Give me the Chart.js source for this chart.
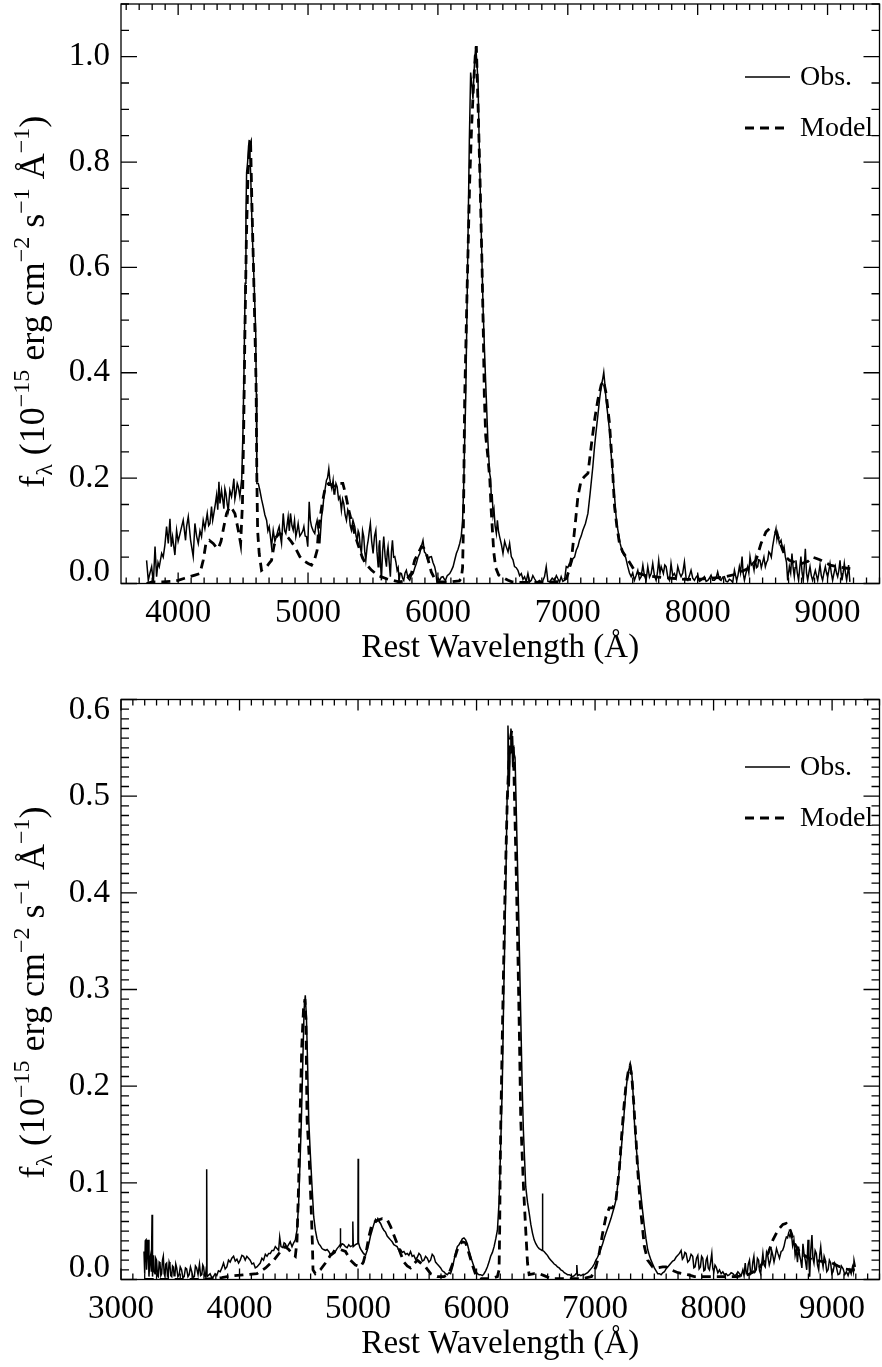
<!DOCTYPE html>
<html>
<head>
<meta charset="utf-8">
<title>Observed vs model spectrum</title>
<script src="https://cdn.jsdelivr.net/npm/chart.js@4.4.1/dist/chart.umd.min.js"></script>
<style>
  html, body { margin: 0; padding: 0; background: #fff; }
  #page { position: relative; width: 882px; height: 1367px; overflow: hidden; }
  canvas { position: absolute; left: 0; }
</style>
</head>
<body>
<div id="page">
  <canvas id="topChart" width="882" height="683" style="top:0"></canvas>
  <canvas id="bottomChart" width="882" height="684" style="top:683px"></canvas>
</div>
<script>
// Wavelength (A) / flux (1e-15 erg cm^-2 s^-1 A^-1) pairs

// upper panel, observed spectrum
const topObs = [
  [3757,0.044],[3770,0.006],[3783,0.02],[3796,0.032],[3809,0.0],[3822,0.07],[3834,0.013],[3845,0.04],[3855,0.032],[3873,0.057],
  [3885,0.05],[3898,0.073],[3911,0.108],[3924,0.076],[3937,0.123],[3947,0.07],[3957,0.089],[3975,0.054],[3988,0.101],[4000,0.08],
  [4009,0.089],[4027,0.108],[4039,0.12],[4057,0.082],[4065,0.108],[4078,0.127],[4096,0.082],[4116,0.051],[4129,0.114],[4142,0.09],
  [4155,0.076],[4168,0.1],[4180,0.089],[4193,0.12],[4206,0.104],[4224,0.133],[4235,0.11],[4245,0.114],[4257,0.146],[4266,0.12],
  [4275,0.133],[4286,0.15],[4296,0.168],[4305,0.14],[4314,0.193],[4322,0.152],[4334,0.177],[4343,0.16],[4352,0.142],[4360,0.18],
  [4368,0.171],[4378,0.15],[4386,0.139],[4398,0.177],[4411,0.165],[4420,0.18],[4429,0.199],[4437,0.16],[4445,0.171],[4455,0.19],
  [4463,0.184],[4475,0.165],[4490,0.2],[4500,0.3],[4508,0.42],[4516,0.57],[4522,0.7],[4527,0.78],[4535,0.8],[4542,0.83],
  [4547,0.842],[4558,0.78],[4570,0.67],[4585,0.57],[4597,0.48],[4602,0.36],[4606,0.19],[4617,0.19],[4629,0.177],[4642,0.16],
  [4655,0.146],[4668,0.13],[4681,0.12],[4691,0.1],[4701,0.108],[4710,0.09],[4719,0.07],[4732,0.101],[4745,0.08],[4757,0.089],
  [4768,0.1],[4778,0.108],[4787,0.09],[4796,0.076],[4809,0.133],[4820,0.1],[4829,0.095],[4838,0.11],[4847,0.127],[4856,0.1],
  [4865,0.133],[4876,0.11],[4886,0.101],[4896,0.12],[4906,0.089],[4915,0.1],[4924,0.114],[4937,0.09],[4950,0.095],[4960,0.1],
  [4968,0.108],[4978,0.09],[4988,0.089],[4998,0.07],[5009,0.155],[5018,0.12],[5027,0.108],[5040,0.1],[5052,0.095],[5060,0.11],
  [5070,0.12],[5080,0.1],[5091,0.076],[5104,0.127],[5113,0.14],[5122,0.165],[5132,0.18],[5142,0.196],[5150,0.2],[5160,0.218],
  [5167,0.2],[5173,0.19],[5183,0.18],[5193,0.196],[5200,0.17],[5206,0.171],[5215,0.19],[5224,0.184],[5235,0.16],[5245,0.165],
  [5257,0.139],[5266,0.16],[5275,0.152],[5286,0.13],[5296,0.12],[5306,0.14],[5316,0.133],[5325,0.11],[5334,0.101],[5346,0.12],
  [5360,0.108],[5370,0.09],[5378,0.082],[5386,0.1],[5393,0.095],[5402,0.07],[5411,0.057],[5420,0.1],[5429,0.089],[5437,0.06],
  [5445,0.044],[5455,0.07],[5463,0.082],[5472,0.1],[5480,0.114],[5490,0.08],[5501,0.057],[5512,0.09],[5522,0.101],[5531,0.06],
  [5540,0.032],[5546,0.07],[5552,0.082],[5558,0.04],[5565,0.006],[5574,0.06],[5583,0.089],[5594,0.05],[5604,0.032],[5610,0.06],
  [5616,0.07],[5625,0.04],[5634,0.013],[5642,0.06],[5650,0.082],[5659,0.05],[5668,0.051],[5677,0.04],[5686,0.025],[5694,0.03],
  [5701,0.006],[5710,0.02],[5719,0.019],[5728,0.01],[5737,0.006],[5747,0.02],[5757,0.025],[5770,0.01],[5783,0.006],[5796,0.015],
  [5809,0.019],[5822,0.03],[5834,0.038],[5847,0.05],[5860,0.057],[5872,0.07],[5885,0.082],[5896,0.06],[5906,0.057],[5915,0.05],
  [5924,0.044],[5935,0.05],[5950,0.051],[5962,0.04],[5975,0.032],[5985,0.02],[5993,0.0],[6003,0.01],[6014,0.006],[6026,0.012],
  [6039,0.013],[6050,0.008],[6058,0.006],[6072,0.015],[6091,0.019],[6104,0.025],[6117,0.032],[6130,0.045],[6142,0.057],[6155,0.065],
  [6168,0.076],[6180,0.09],[6190,0.12],[6198,0.18],[6206,0.27],[6214,0.349],[6224,0.52],[6233,0.68],[6242,0.84],[6252,0.97],
  [6260,0.95],[6270,0.92],[6280,0.98],[6291,1.02],[6300,0.99],[6309,0.95],[6320,0.81],[6334,0.665],[6348,0.52],[6362,0.42],
  [6373,0.349],[6385,0.27],[6398,0.21],[6405,0.2],[6412,0.16],[6418,0.17],[6425,0.13],[6432,0.14],[6440,0.11],[6450,0.095],
  [6458,0.12],[6466,0.1],[6475,0.089],[6488,0.075],[6501,0.057],[6514,0.08],[6526,0.07],[6540,0.06],[6552,0.076],[6565,0.051],
  [6578,0.045],[6590,0.032],[6603,0.03],[6616,0.025],[6629,0.015],[6642,0.019],[6655,0.008],[6667,0.013],[6680,0.004],[6693,0.019],
  [6706,0.003],[6719,0.006],[6731,0.015],[6744,0.009],[6760,0.002],[6783,0.006],[6802,0.002],[6821,0.013],[6834,0.032],[6847,0.004],
  [6860,0.003],[6880,0.01],[6898,0.006],[6912,0.015],[6924,0.009],[6937,0.003],[6949,0.013],[6962,0.004],[6975,0.006],[6988,0.032],
  [7000,0.03],[7013,0.038],[7026,0.036],[7039,0.047],[7052,0.05],[7065,0.063],[7078,0.07],[7090,0.082],[7103,0.09],[7116,0.101],
  [7136,0.114],[7155,0.133],[7172,0.171],[7193,0.222],[7206,0.26],[7219,0.291],[7232,0.32],[7244,0.348],[7258,0.375],[7270,0.39],
  [7277,0.401],[7285,0.38],[7295,0.348],[7308,0.32],[7321,0.291],[7332,0.25],[7342,0.222],[7352,0.19],[7360,0.165],[7372,0.127],
  [7380,0.11],[7390,0.095],[7403,0.076],[7420,0.06],[7432,0.054],[7445,0.05],[7462,0.032],[7475,0.02],[7488,0.013],[7500,0.02],
  [7513,0.006],[7526,0.015],[7539,0.025],[7552,0.008],[7565,0.013],[7578,0.035],[7590,0.015],[7603,0.006],[7616,0.032],[7629,0.012],
  [7642,0.019],[7654,0.038],[7667,0.015],[7680,0.006],[7690,0.02],[7700,0.044],[7710,0.02],[7719,0.032],[7736,0.019],[7747,0.035],
  [7757,0.032],[7770,0.012],[7783,0.006],[7795,0.038],[7808,0.015],[7821,0.019],[7835,0.01],[7847,0.032],[7860,0.02],[7872,0.013],
  [7885,0.02],[7898,0.041],[7911,0.01],[7924,0.006],[7937,0.015],[7949,0.025],[7962,0.01],[7975,0.006],[7988,0.012],[8001,0.016],
  [8014,0.004],[8026,0.006],[8039,0.01],[8052,0.013],[8065,0.004],[8078,0.006],[8090,0.01],[8103,0.016],[8116,0.006],[8129,0.006],
  [8142,0.01],[8154,0.022],[8167,0.008],[8180,0.006],[8193,0.012],[8206,0.013],[8219,0.004],[8231,0.003],[8244,0.008],[8257,0.006],
  [8270,0.002],[8283,0.025],[8300,0.006],[8310,0.015],[8321,0.032],[8330,0.02],[8342,0.051],[8350,0.02],[8360,0.006],[8372,0.02],
  [8385,0.032],[8394,0.02],[8403,0.051],[8413,0.035],[8424,0.038],[8434,0.025],[8444,0.047],[8453,0.03],[8462,0.032],[8470,0.045],
  [8480,0.044],[8490,0.03],[8501,0.041],[8510,0.05],[8521,0.032],[8530,0.04],[8539,0.044],[8548,0.06],[8557,0.057],[8567,0.05],
  [8577,0.07],[8590,0.089],[8603,0.104],[8610,0.085],[8616,0.095],[8629,0.076],[8642,0.082],[8655,0.063],[8665,0.07],[8675,0.051],
  [8684,0.04],[8693,0.006],[8700,0.02],[8706,0.032],[8716,0.02],[8726,0.057],[8735,0.03],[8744,0.013],[8750,0.03],[8757,0.044],
  [8767,0.02],[8777,0.006],[8786,0.03],[8795,0.051],[8804,0.02],[8813,0.006],[8820,0.03],[8829,0.066],[8838,0.02],[8847,0.006],
  [8856,0.02],[8865,0.032],[8875,0.015],[8885,0.006],[8895,0.015],[8906,0.025],[8915,0.015],[8924,0.006],[8933,0.02],[8942,0.035],
  [8952,0.015],[8962,0.006],[8972,0.02],[8983,0.032],[8992,0.02],[9001,0.013],[9010,0.025],[9019,0.038],[9029,0.02],[9039,0.006],
  [9050,0.02],[9060,0.032],[9069,0.02],[9078,0.013],[9087,0.025],[9096,0.044],[9104,0.02],[9111,0.006],[9120,0.02],[9129,0.038],
  [9138,0.02],[9147,0.006],[9155,0.02],[9162,0.035],[9172,0.003]
];

// upper panel, model spectrum
const topModel = [
  [3757,0.0],[3800,0.003],[3880,0.003],[3950,0.004],[4000,0.006],[4050,0.01],[4090,0.013],[4130,0.016],[4168,0.019],[4193,0.044],
  [4214,0.076],[4240,0.082],[4270,0.076],[4290,0.07],[4309,0.066],[4330,0.08],[4352,0.108],[4373,0.133],[4398,0.146],[4420,0.14],
  [4437,0.133],[4463,0.101],[4481,0.076],[4495,0.15],[4505,0.3],[4514,0.476],[4525,0.65],[4538,0.78],[4550,0.83],[4558,0.835],
  [4568,0.72],[4580,0.6],[4592,0.47],[4600,0.38],[4606,0.2],[4612,0.1],[4624,0.057],[4642,0.025],[4660,0.028],[4681,0.032],
  [4700,0.038],[4719,0.044],[4737,0.07],[4757,0.089],[4780,0.095],[4810,0.092],[4840,0.089],[4870,0.08],[4898,0.07],[4937,0.051],
  [4963,0.044],[5001,0.038],[5027,0.035],[5050,0.045],[5070,0.063],[5083,0.108],[5109,0.152],[5134,0.184],[5160,0.19],[5200,0.185],
  [5237,0.19],[5268,0.19],[5288,0.171],[5314,0.139],[5339,0.114],[5365,0.089],[5390,0.07],[5416,0.051],[5442,0.038],[5490,0.025],
  [5540,0.015],[5604,0.009],[5650,0.006],[5700,0.003],[5750,0.005],[5796,0.019],[5821,0.044],[5847,0.057],[5873,0.07],[5890,0.068],
  [5911,0.057],[5930,0.04],[5949,0.022],[5975,0.009],[6000,0.003],[6100,0.003],[6165,0.005],[6180,0.01],[6190,0.03],[6196,0.1],
  [6200,0.2],[6206,0.349],[6225,0.56],[6245,0.766],[6260,0.87],[6275,0.95],[6287,1.0],[6296,1.02],[6310,0.9],[6325,0.76],
  [6340,0.6],[6350,0.47],[6357,0.36],[6368,0.28],[6385,0.24],[6400,0.196],[6410,0.14],[6420,0.1],[6430,0.06],[6445,0.03],
  [6468,0.016],[6490,0.012],[6510,0.01],[6540,0.006],[6570,0.003],[6650,0.002],[6800,0.002],[6950,0.004],[6990,0.01],[7010,0.025],
  [7030,0.05],[7044,0.082],[7060,0.12],[7078,0.165],[7103,0.196],[7129,0.203],[7155,0.209],[7180,0.26],[7206,0.31],[7231,0.348],
  [7257,0.377],[7275,0.385],[7295,0.361],[7321,0.304],[7342,0.228],[7360,0.146],[7378,0.108],[7398,0.076],[7423,0.06],[7450,0.05],
  [7488,0.035],[7513,0.025],[7540,0.02],[7600,0.015],[7700,0.012],[7800,0.01],[7900,0.008],[8000,0.008],[8100,0.01],[8200,0.012],
  [8300,0.018],[8400,0.03],[8449,0.044],[8488,0.076],[8526,0.098],[8552,0.104],[8578,0.1],[8603,0.098],[8629,0.082],[8655,0.063],
  [8680,0.05],[8706,0.044],[8750,0.04],[8800,0.038],[8850,0.042],[8885,0.05],[8910,0.048],[8940,0.045],[8980,0.04],[9020,0.035],
  [9070,0.032],[9120,0.03],[9175,0.028]
];

// lower panel, observed spectrum
const bottomObs = [
  [3194,0.029],[3200,0.006],[3205,0.04],[3211,0.041],[3216,0.01],[3222,0.03],[3228,0.041],[3236,0.003],[3243,0.02],[3250,0.025],
  [3256,0.008],[3262,0.067],[3266,0.003],[3275,0.025],[3281,0.008],[3287,0.006],[3293,0.022],[3300,0.02],[3308,0.004],[3315,0.003],
  [3322,0.018],[3329,0.017],[3336,0.004],[3343,0.006],[3350,0.02],[3357,0.024],[3364,0.006],[3371,0.003],[3378,0.016],[3385,0.017],
  [3392,0.004],[3399,0.006],[3406,0.018],[3413,0.015],[3420,0.004],[3428,0.003],[3435,0.014],[3442,0.013],[3448,0.004],[3455,0.005],
  [3462,0.016],[3470,0.012],[3480,0.003],[3491,0.005],[3500,0.013],[3511,0.01],[3522,0.002],[3533,0.003],[3544,0.012],[3554,0.011],
  [3565,0.003],[3575,0.005],[3586,0.013],[3597,0.008],[3608,0.002],[3619,0.003],[3628,0.014],[3638,0.012],[3650,0.005],[3662,0.016],
  [3672,0.004],[3682,0.005],[3690,0.015],[3697,0.013],[3705,0.004],[3712,0.003],[3718,0.01],[3722,0.008],[3724,0.114],[3726,0.003],
  [3735,0.004],[3752,0.006],[3766,0.002],[3780,0.003],[3794,0.006],[3808,0.004],[3822,0.009],[3837,0.008],[3851,0.012],[3865,0.017],
  [3879,0.011],[3893,0.013],[3907,0.02],[3921,0.018],[3935,0.022],[3950,0.024],[3964,0.019],[3978,0.021],[3992,0.017],[4006,0.02],
  [4020,0.025],[4034,0.024],[4048,0.02],[4062,0.024],[4076,0.022],[4090,0.02],[4105,0.016],[4119,0.017],[4133,0.012],[4147,0.013],
  [4161,0.015],[4175,0.017],[4189,0.022],[4203,0.02],[4218,0.026],[4232,0.024],[4246,0.027],[4260,0.027],[4274,0.03],[4288,0.03],
  [4302,0.034],[4316,0.032],[4330,0.03],[4339,0.044],[4350,0.034],[4366,0.033],[4376,0.038],[4386,0.037],[4400,0.033],[4414,0.036],
  [4428,0.039],[4443,0.034],[4457,0.038],[4471,0.041],[4485,0.051],[4499,0.079],[4513,0.13],[4522,0.165],[4535,0.23],[4545,0.28],
  [4555,0.294],[4565,0.27],[4575,0.22],[4584,0.165],[4597,0.131],[4612,0.096],[4626,0.065],[4640,0.051],[4654,0.042],[4668,0.037],
  [4682,0.035],[4696,0.032],[4710,0.031],[4725,0.03],[4739,0.031],[4753,0.029],[4767,0.026],[4781,0.027],[4795,0.03],[4809,0.029],
  [4823,0.032],[4837,0.034],[4849,0.036],[4851,0.053],[4853,0.034],[4866,0.037],[4880,0.036],[4894,0.034],[4908,0.033],[4922,0.036],
  [4936,0.034],[4952,0.035],[4956,0.06],[4960,0.034],[4978,0.036],[4992,0.037],[4999,0.038],[5001,0.125],[5004,0.038],[5016,0.033],
  [5030,0.03],[5046,0.027],[5063,0.025],[5077,0.03],[5091,0.037],[5105,0.045],[5119,0.051],[5133,0.057],[5147,0.062],[5157,0.06],
  [5167,0.063],[5178,0.06],[5190,0.058],[5204,0.054],[5218,0.051],[5232,0.049],[5246,0.045],[5260,0.043],[5274,0.041],[5288,0.039],
  [5302,0.036],[5316,0.035],[5330,0.034],[5345,0.03],[5359,0.031],[5373,0.028],[5387,0.029],[5401,0.026],[5415,0.027],[5429,0.025],
  [5443,0.029],[5457,0.024],[5471,0.025],[5485,0.021],[5500,0.023],[5514,0.027],[5528,0.025],[5542,0.019],[5556,0.02],[5570,0.024],
  [5584,0.022],[5598,0.018],[5612,0.02],[5626,0.026],[5640,0.024],[5654,0.018],[5668,0.016],[5683,0.014],[5697,0.012],[5711,0.009],
  [5725,0.008],[5739,0.006],[5753,0.005],[5767,0.007],[5781,0.006],[5796,0.012],[5810,0.02],[5824,0.028],[5838,0.034],[5852,0.036],
  [5866,0.039],[5880,0.042],[5894,0.043],[5908,0.041],[5922,0.037],[5936,0.03],[5950,0.024],[5965,0.018],[5979,0.013],[5993,0.009],
  [6007,0.006],[6021,0.005],[6035,0.005],[6049,0.004],[6063,0.006],[6077,0.009],[6091,0.013],[6105,0.018],[6119,0.024],[6134,0.028],
  [6148,0.034],[6162,0.042],[6176,0.051],[6190,0.08],[6204,0.14],[6217,0.2],[6230,0.3],[6246,0.4],[6258,0.5],[6265,0.573],
  [6270,0.55],[6276,0.51],[6283,0.545],[6290,0.57],[6298,0.56],[6305,0.53],[6315,0.545],[6325,0.54],[6340,0.46],[6355,0.38],
  [6370,0.29],[6385,0.2],[6395,0.155],[6415,0.096],[6430,0.08],[6444,0.069],[6458,0.057],[6472,0.048],[6486,0.041],[6500,0.037],
  [6514,0.034],[6528,0.032],[6542,0.031],[6553,0.03],[6556,0.089],[6559,0.03],[6570,0.029],[6584,0.027],[6598,0.025],[6613,0.022],
  [6627,0.02],[6641,0.018],[6655,0.016],[6669,0.015],[6683,0.013],[6697,0.012],[6711,0.01],[6726,0.009],[6740,0.007],[6754,0.006],
  [6768,0.005],[6782,0.005],[6796,0.004],[6810,0.003],[6825,0.004],[6840,0.006],[6846,0.015],[6852,0.004],[6866,0.005],[6880,0.004],
  [6895,0.005],[6909,0.005],[6923,0.006],[6937,0.007],[6951,0.009],[6965,0.011],[6979,0.013],[6993,0.016],[7007,0.02],[7021,0.023],
  [7035,0.027],[7050,0.032],[7064,0.037],[7078,0.043],[7092,0.048],[7106,0.053],[7120,0.058],[7134,0.063],[7148,0.069],[7162,0.075],
  [7176,0.082],[7186,0.092],[7196,0.103],[7208,0.117],[7218,0.13],[7230,0.148],[7241,0.165],[7250,0.18],[7260,0.195],[7270,0.206],
  [7280,0.215],[7290,0.219],[7300,0.221],[7306,0.217],[7312,0.21],[7322,0.19],[7331,0.165],[7345,0.14],[7360,0.12],[7374,0.103],
  [7388,0.086],[7402,0.07],[7416,0.055],[7430,0.042],[7444,0.031],[7458,0.025],[7472,0.02],[7486,0.016],[7500,0.012],[7515,0.009],
  [7529,0.006],[7543,0.006],[7557,0.005],[7571,0.007],[7585,0.008],[7599,0.011],[7613,0.013],[7627,0.015],[7641,0.017],[7655,0.019],
  [7669,0.02],[7683,0.023],[7698,0.025],[7712,0.027],[7726,0.03],[7737,0.021],[7748,0.023],[7758,0.028],[7768,0.027],[7782,0.018],
  [7796,0.02],[7810,0.026],[7824,0.024],[7834,0.012],[7844,0.013],[7856,0.022],[7867,0.025],[7878,0.011],[7889,0.013],[7899,0.024],
  [7909,0.022],[7918,0.009],[7928,0.01],[7937,0.02],[7946,0.023],[7955,0.012],[7965,0.01],[7975,0.018],[7985,0.027],[7993,0.012],
  [8002,0.008],[8012,0.015],[8022,0.013],[8036,0.007],[8050,0.01],[8064,0.006],[8078,0.008],[8092,0.005],[8106,0.006],[8120,0.004],
  [8134,0.005],[8148,0.007],[8163,0.006],[8177,0.004],[8191,0.005],[8205,0.008],[8219,0.006],[8233,0.004],[8247,0.01],[8257,0.004],
  [8267,0.017],[8276,0.006],[8284,0.006],[8293,0.016],[8303,0.02],[8313,0.006],[8323,0.008],[8331,0.018],[8340,0.024],[8350,0.008],
  [8360,0.01],[8370,0.022],[8380,0.02],[8388,0.009],[8397,0.006],[8406,0.016],[8416,0.027],[8426,0.015],[8436,0.013],[8447,0.028],
  [8458,0.024],[8470,0.015],[8481,0.02],[8490,0.03],[8500,0.025],[8510,0.018],[8520,0.024],[8531,0.032],[8543,0.027],[8556,0.022],
  [8570,0.029],[8582,0.03],[8594,0.034],[8604,0.04],[8614,0.044],[8624,0.043],[8633,0.048],[8645,0.044],[8656,0.048],[8667,0.035],
  [8678,0.041],[8688,0.025],[8698,0.031],[8708,0.018],[8717,0.034],[8726,0.025],[8735,0.02],[8745,0.012],[8754,0.037],[8764,0.026],
  [8774,0.02],[8786,0.01],[8797,0.041],[8804,0.02],[8811,0.003],[8820,0.03],[8830,0.046],[8838,0.022],[8847,0.017],[8857,0.03],
  [8867,0.027],[8877,0.015],[8887,0.01],[8895,0.025],[8904,0.034],[8914,0.02],[8924,0.013],[8933,0.024],[8943,0.02],[8955,0.008],
  [8966,0.01],[8977,0.02],[8988,0.017],[8998,0.006],[9008,0.008],[9022,0.017],[9036,0.013],[9050,0.005],[9064,0.006],[9078,0.014],
  [9093,0.011],[9107,0.005],[9121,0.008],[9135,0.004],[9150,0.01],[9161,0.006],[9172,0.013],[9180,0.008],[9185,0.02],[9196,0.013]
];

// lower panel, model spectrum
const bottomModel = [
  [3200,0.0],[3400,0.0],[3700,0.0],[3850,0.002],[3950,0.004],[4050,0.005],[4147,0.006],[4220,0.012],[4290,0.02],[4340,0.028],
  [4386,0.034],[4415,0.031],[4443,0.027],[4471,0.024],[4485,0.04],[4499,0.1],[4510,0.165],[4525,0.24],[4540,0.28],[4552,0.29],
  [4560,0.27],[4570,0.165],[4586,0.131],[4603,0.079],[4615,0.037],[4620,0.01],[4640,0.006],[4682,0.01],[4725,0.017],[4767,0.025],
  [4809,0.029],[4851,0.031],[4894,0.029],[4936,0.02],[4978,0.015],[5020,0.013],[5045,0.018],[5071,0.03],[5091,0.044],[5119,0.058],
  [5160,0.061],[5204,0.063],[5246,0.062],[5274,0.055],[5302,0.046],[5330,0.037],[5359,0.027],[5387,0.018],[5415,0.014],[5443,0.012],
  [5470,0.016],[5500,0.02],[5530,0.017],[5570,0.013],[5612,0.006],[5668,0.003],[5725,0.003],[5767,0.006],[5810,0.02],[5838,0.031],
  [5865,0.037],[5880,0.039],[5908,0.038],[5936,0.027],[5965,0.015],[5993,0.005],[6035,0.001],[6100,0.001],[6150,0.002],[6176,0.003],
  [6190,0.01],[6195,0.05],[6200,0.12],[6205,0.165],[6220,0.27],[6240,0.4],[6260,0.5],[6280,0.555],[6297,0.568],[6303,0.545],
  [6310,0.555],[6320,0.5],[6335,0.42],[6350,0.33],[6362,0.25],[6373,0.165],[6396,0.096],[6415,0.051],[6430,0.017],[6444,0.005],
  [6486,0.006],[6530,0.006],[6570,0.004],[6627,0.001],[6900,0.001],[6970,0.003],[7007,0.013],[7035,0.027],[7064,0.048],[7092,0.065],
  [7120,0.074],[7148,0.074],[7176,0.082],[7204,0.113],[7224,0.148],[7241,0.175],[7260,0.2],[7280,0.215],[7295,0.221],[7310,0.21],
  [7325,0.185],[7335,0.165],[7348,0.14],[7360,0.113],[7388,0.068],[7416,0.034],[7444,0.02],[7486,0.013],[7530,0.012],[7571,0.013],
  [7599,0.013],[7640,0.01],[7700,0.007],[7782,0.005],[7838,0.003],[8000,0.003],[8200,0.003],[8289,0.005],[8374,0.01],[8430,0.02],
  [8460,0.027],[8501,0.041],[8543,0.051],[8585,0.057],[8613,0.058],[8633,0.055],[8656,0.048],[8684,0.037],[8712,0.031],[8740,0.027],
  [8790,0.023],[8839,0.02],[8900,0.019],[8952,0.018],[9000,0.017],[9050,0.014],[9107,0.011],[9163,0.01],[9200,0.01]
];

// axis ranges and labelled ticks
const topXRange = [3560, 9400];
const topYRange = [0, 1.1];
const bottomXRange = [3000, 9400];
const bottomYRange = [0, 0.6];
const topXTicks = [4000, 5000, 6000, 7000, 8000, 9000];
const bottomXTicks = [3000, 4000, 5000, 6000, 7000, 8000, 9000];
const topYTicks = [0, 0.2, 0.4, 0.6, 0.8, 1.0];
const bottomYTicks = [0, 0.1, 0.2, 0.3, 0.4, 0.5, 0.6];

const xTitle = 'Rest Wavelength (Å)';
// [text, 0 = normal, 1 = superscript, -1 = subscript]
const yTitleParts = [
  ['f', 0], ['λ', -1], [' (10', 0], ['−15', 1], [' erg cm', 0], ['−2', 1],
  [' s', 0], ['−1', 1], [' Å', 0], ['−1', 1], [')', 0]
];

const FONT = '"Liberation Serif", "Times New Roman", Times, serif';
Chart.defaults.font.family = FONT;
Chart.defaults.color = '#000';

const toXY = pairs => pairs.map(([x, y]) => ({ x, y }));

// IDL style frame: box on all four sides, inward major and minor ticks
const idlFrame = {
  id: 'idlFrame',
  afterDatasetsDraw(chart, args, o) {
    const { ctx, chartArea: a, scales: { x, y } } = chart;
    ctx.save();
    ctx.strokeStyle = '#000';
    ctx.lineWidth = 1.3;
    ctx.strokeRect(a.left, a.top, a.right - a.left, a.bottom - a.top);
    ctx.beginPath();
    const n0 = Math.ceil(x.min / o.xMinor), n1 = Math.floor(x.max / o.xMinor);
    for (let n = n0; n <= n1; n++) {
      const v = n * o.xMinor;
      const px = x.getPixelForValue(v);
      const len = Math.abs(v % o.xMajor) < 1e-6 ? 11 : 6;
      ctx.moveTo(px, a.bottom); ctx.lineTo(px, a.bottom - len);
      ctx.moveTo(px, a.top); ctx.lineTo(px, a.top + len);
    }
    const m1 = Math.round(y.max / o.yMinor);
    const per = Math.round(o.yMajor / o.yMinor);
    for (let m = 0; m <= m1; m++) {
      const py = y.getPixelForValue(m * o.yMinor);
      const len = m % per === 0 ? 16 : 8;
      ctx.moveTo(a.left, py); ctx.lineTo(a.left + len, py);
      ctx.moveTo(a.right, py); ctx.lineTo(a.right - len, py);
    }
    ctx.stroke();
    ctx.restore();
  }
};

// rotated y title with sub/superscripts
const yTitle = {
  id: 'yTitle',
  afterDraw(chart, args, o) {
    const { ctx, chartArea: a } = chart;
    const big = `${o.size}px ${FONT}`;
    const small = `${Math.round(o.size * 0.66)}px ${FONT}`;
    ctx.save();
    let w = 0;
    yTitleParts.forEach(([t, s]) => { ctx.font = s ? small : big; w += ctx.measureText(t).width; });
    ctx.translate(o.baseline, (a.top + a.bottom) / 2 + o.shift);
    ctx.rotate(-Math.PI / 2);
    ctx.fillStyle = '#000';
    ctx.textAlign = 'left';
    ctx.textBaseline = 'alphabetic';
    let cx = -w / 2;
    yTitleParts.forEach(([t, s]) => {
      ctx.font = s ? small : big;
      const dy = s === 1 ? -o.size * 0.42 : s === -1 ? o.size * 0.22 : 0;
      ctx.fillText(t, cx, dy);
      cx += ctx.measureText(t).width;
    });
    ctx.restore();
  }
};

// line key in the upper right of the plot
const lineKey = {
  id: 'lineKey',
  afterDraw(chart, args, o) {
    const { ctx, chartArea: a } = chart;
    ctx.save();
    ctx.font = `${o.size}px ${FONT}`;
    ctx.fillStyle = '#000';
    ctx.textBaseline = 'middle';
    chart.data.datasets.forEach((ds, i) => {
      const yy = a.top + o.top + i * o.gap;
      ctx.strokeStyle = '#000';
      ctx.lineWidth = ds.borderWidth;
      ctx.setLineDash(ds.borderDash || []);
      ctx.beginPath();
      ctx.moveTo(o.x0, yy); ctx.lineTo(o.x1, yy);
      ctx.stroke();
      ctx.fillText(ds.label, o.x1 + 10, yy + 1);
    });
    ctx.restore();
  }
};

function makeChart(id, p) {
  const tickFont = { size: 33, family: FONT, lineHeight: 1 };
  return new Chart(document.getElementById(id), {
    type: 'line',
    data: {
      datasets: [
        { label: 'Obs.', data: toXY(p.obs), borderColor: '#000', borderWidth: 1.5,
          pointRadius: 0, tension: 0, order: 1 },
        { label: 'Model', data: toXY(p.model), borderColor: '#000', borderWidth: 2.8,
          borderDash: [9, 6], pointRadius: 0, tension: 0, order: 0 }
      ]
    },
    options: {
      responsive: false,
      animation: false,
      events: [],
      layout: { padding: { left: 0, right: 2.5, top: p.padTop, bottom: 0 } },
      plugins: {
        legend: { display: false },
        tooltip: { enabled: false },
        idlFrame: p.frame,
        yTitle: { size: 36, baseline: 44, shift: p.titleShift },
        lineKey: { size: 28, x0: 745, x1: 790, top: p.keyTop, gap: 51 }
      },
      scales: {
        x: {
          type: 'linear', min: p.xRange[0], max: p.xRange[1],
          afterFit: s => { s.height = p.xHeight; s.paddingLeft = 0; s.paddingRight = 0; },
          afterBuildTicks: s => { s.ticks = p.xTicks.map(v => ({ value: v })); },
          grid: { display: false, drawTicks: false },
          border: { display: false },
          ticks: { font: tickFont, color: '#000', padding: 13, maxRotation: 0, autoSkip: false,
                   callback: v => String(v) },
          title: { display: true, text: xTitle, color: '#000',
                   font: { size: 33, family: FONT, lineHeight: 1 },
                   padding: { top: 0, bottom: p.titlePad } }
        },
        y: {
          type: 'linear', min: p.yRange[0], max: p.yRange[1],
          afterFit: s => { s.width = 121; s.paddingTop = 0; s.paddingBottom = 0; },
          afterBuildTicks: s => { s.ticks = p.yTicks.map(v => ({ value: v })); },
          grid: { display: false, drawTicks: false },
          border: { display: false },
          ticks: {
            font: { size: 33, family: FONT, lineHeight: 0.66 },
            color: '#000', padding: 11, autoSkip: false,
            // first/last labels sitting on the box edge are nudged inside it
            callback: v => {
              const t = v.toFixed(1);
              if (v === p.yRange[0]) return [t, ''];
              if (v === p.yRange[1]) return ['', t];
              return t;
            }
          }
        }
      }
    },
    plugins: [idlFrame, yTitle, lineKey]
  });
}

makeChart('topChart', {
  obs: topObs, model: topModel,
  xRange: topXRange, yRange: topYRange, xTicks: topXTicks, yTicks: topYTicks,
  padTop: 4, xHeight: 99.5, titlePad: 18, titleShift: 8, keyTop: 73,
  frame: { xMinor: 100, xMajor: 1000, yMinor: 0.05, yMajor: 0.2 }
});

makeChart('bottomChart', {
  obs: bottomObs, model: bottomModel,
  xRange: bottomXRange, yRange: bottomYRange, xTicks: bottomXTicks, yTicks: bottomYTicks,
  padTop: 16.5, xHeight: 87.5, titlePad: 6, titleShift: 3, keyTop: 67.5,
  frame: { xMinor: 100, xMajor: 1000, yMinor: 0.01, yMajor: 0.1 }
});
</script>
</body>
</html>
